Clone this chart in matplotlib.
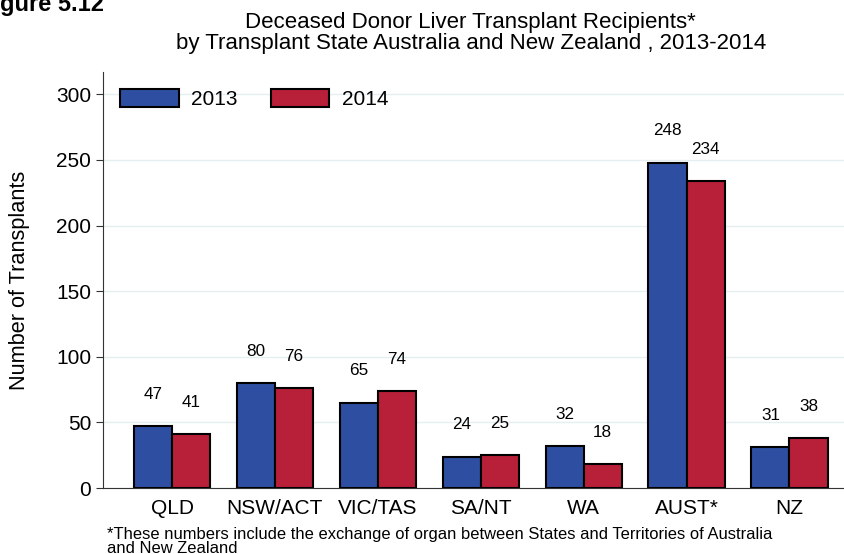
import matplotlib
matplotlib.use("Agg")
import matplotlib.pyplot as plt
import numpy as np

plt.rcParams['font.family'] = ['Liberation Sans', 'DejaVu Sans']

states = ['QLD', 'NSW/ACT', 'VIC/TAS', 'SA/NT', 'WA', 'AUST*', 'NZ']
y2013 = [47, 80, 65, 24, 32, 248, 31]
y2014 = [41, 76, 74, 25, 18, 234, 38]

blue = '#2e4fa1'
red = '#b81f38'

fig = plt.figure(figsize=(8.45, 5.54), dpi=100)
ax = fig.add_axes([0.122, 0.119, 0.878, 0.751])

x = np.arange(len(states))
w = 0.37
b1 = ax.bar(x - w/2, y2013, w, color=blue, edgecolor='black', linewidth=1.5, label='2013', zorder=3)
b2 = ax.bar(x + w/2, y2014, w, color=red, edgecolor='black', linewidth=1.5, label='2014', zorder=3)

for bars in (b1, b2):
    for r in bars:
        ax.annotate(str(int(r.get_height())), (r.get_x() + r.get_width()/2, r.get_height()),
                    xytext=(0, 23), textcoords='offset points', ha='center', va='center',
                    fontsize=12.3)

ax.set_xlim(-0.67, 6.54)
ax.set_ylim(0, 317)
ax.set_yticks([0, 50, 100, 150, 200, 250, 300])
ax.set_xticks(x)
ax.set_xticklabels(states)
ax.tick_params(axis='x', length=0, labelsize=15, pad=8)
ax.tick_params(axis='y', length=5, labelsize=15, color='#333333')
ax.grid(axis='y', color='#e6eff0', linewidth=1, zorder=0)
for s in ['top', 'right']:
    ax.spines[s].set_visible(False)
for s in ['left', 'bottom']:
    ax.spines[s].set_color('#333333')
ax.set_ylabel('Number of Transplants', fontsize=15.7)
ax.yaxis.set_label_coords(-0.099, 0.5)

leg = ax.legend(loc='upper left', ncol=2, frameon=False, fontsize=15,
                handlelength=2.8, handleheight=0.95, handletextpad=0.6, columnspacing=1.6,
                borderaxespad=0, bbox_to_anchor=(0.012, 0.979))

fig.text(0.557, 0.978, 'Deceased Donor Liver Transplant Recipients*\nby Transplant State Australia and New Zealand , 2013-2014',
         ha='center', va='top', fontsize=16, linespacing=1.0)
fig.text(-0.025, 0.980, 'Figure 5.12', ha='left', va='baseline', fontsize=17, fontweight='bold')
fig.text(0.127, -0.003, '*These numbers include the exchange of organ between States and Territories of Australia\nand New Zealand',
         ha='left', va='bottom', fontsize=11.9, linespacing=0.85)

fig.savefig('out.png', dpi=100)
